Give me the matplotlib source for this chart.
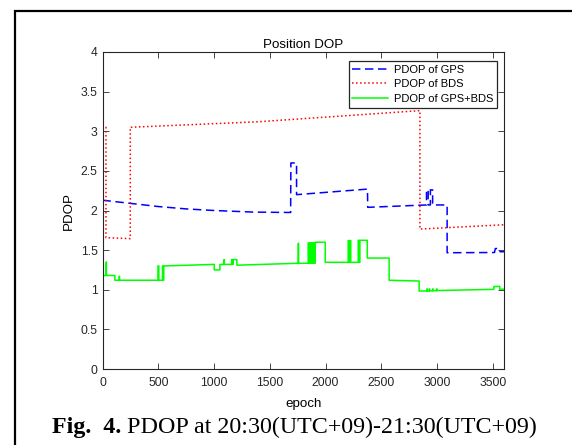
import matplotlib
matplotlib.use("Agg")
import matplotlib.pyplot as plt
from matplotlib.patches import Rectangle

plt.rcParams['font.family'] = ['Liberation Sans', 'DejaVu Sans']

# PDOP of GPS (epoch, value)
gps_x = [0, 250, 500, 750, 1000, 1350, 1687, 1689, 1740, 1740, 2376, 2378, 2905, 2905, 2920,
         2920, 2940, 2940, 2960, 2960, 2995, 2995, 3090, 3090, 3515, 3522, 3560, 3565, 3600]
gps_y = [2.13, 2.09, 2.05, 2.02, 2.0, 1.98, 1.975, 2.60, 2.60, 2.20, 2.27, 2.04, 2.07, 2.26,
         2.26, 2.07, 2.07, 2.26, 2.26, 2.07, 2.07, 2.07, 2.07, 1.467, 1.47, 1.52, 1.52, 1.48, 1.48]

# PDOP of BDS
bds_x = [28, 31, 31, 247, 249, 249, 1400, 2844, 2846, 2846, 3600]
bds_y = [3.05, 3.05, 1.657, 1.645, 1.645, 3.05, 3.12, 3.26, 3.26, 1.766, 1.82]

# PDOP of GPS+BDS, vertices as (epoch, value)
combo_pts = [
    (0, 1.18), (33, 1.18), (33, 1.35), (35, 1.35), (35, 1.18), (111, 1.18), (111, 1.12),
    (150, 1.12), (150, 1.17), (153, 1.17), (153, 1.12), (497, 1.12), (497, 1.30), (505, 1.30),
    (505, 1.12), (538, 1.12), (538, 1.30), (545, 1.30), (545, 1.12), (549, 1.12), (549, 1.30),
    (1002, 1.32), (1002, 1.25), (1053, 1.25), (1053, 1.32), (1089, 1.32), (1089, 1.38),
    (1092, 1.38), (1092, 1.32), (1158, 1.32), (1158, 1.38), (1165, 1.38), (1165, 1.32),
    (1172, 1.32), (1172, 1.38), (1205, 1.38), (1205, 1.31), (1755, 1.334), (1755, 1.586),
    (1758, 1.586), (1758, 1.334), (1844, 1.334), (1844, 1.59), (1852, 1.59), (1852, 1.334),
    (1858, 1.334), (1858, 1.59), (1864, 1.59), (1864, 1.334), (1870, 1.334), (1870, 1.59),
    (1876, 1.59), (1876, 1.334), (1882, 1.334), (1882, 1.59), (1888, 1.59), (1888, 1.334),
    (1894, 1.334), (1894, 1.59), (1900, 1.59), (1900, 1.334), (1906, 1.334), (1906, 1.59),
    (1910, 1.59), (1910, 1.60), (1997, 1.60), (1997, 1.346), (2203, 1.346), (2203, 1.62),
    (2210, 1.62), (2210, 1.346), (2216, 1.346), (2216, 1.62), (2226, 1.62), (2226, 1.346),
    (2293, 1.346), (2293, 1.624), (2300, 1.624), (2300, 1.346), (2308, 1.346), (2308, 1.624),
    (2374, 1.624), (2374, 1.40), (2570, 1.40), (2570, 1.12), (2839, 1.11), (2839, 0.984),
    (2908, 0.984), (2908, 1.01), (2912, 1.01), (2912, 0.984), (2930, 0.985), (2930, 1.01),
    (2934, 1.01), (2934, 0.986), (2960, 0.987), (2960, 1.01), (2964, 1.01), (2964, 0.988),
    (2995, 0.988), (2995, 1.01), (2999, 1.01), (2999, 0.99), (3509, 1.005), (3509, 1.04),
    (3562, 1.043), (3562, 1.005), (3600, 1.008),
]
combo_x = [p[0] for p in combo_pts]
combo_y = [p[1] for p in combo_pts]

x_ticks = [0, 500, 1000, 1500, 2000, 2500, 3000, 3500]
y_ticks = [0, 0.5, 1, 1.5, 2, 2.5, 3, 3.5, 4]

W, H = 572, 445
fig = plt.figure(figsize=(W / 100, H / 100), dpi=100)
ax = fig.add_axes([102.5 / W, 1 - 369 / H, (504 - 102.5) / W, (369 - 52) / H])

ax.plot(gps_x, gps_y, color='#0000ff', lw=1.1, dashes=(5.5, 3), label='PDOP of GPS')
ax.plot(bds_x, bds_y, color='#ff0000', lw=1.1, ls=':', label='PDOP of BDS')
ax.plot(combo_x, combo_y, color='#00ff00', lw=1.1, label='PDOP of GPS+BDS')

ax.set_xlim(0, 3600)
ax.set_ylim(0, 4)
ax.set_xticks(x_ticks)
ax.set_yticks(y_ticks)
ax.set_yticklabels([f'{v:g}' for v in y_ticks])
dark = '#262626'
ax.tick_params(direction='in', top=True, right=True, length=4, width=0.6,
               labelsize=8.7, colors=dark)
ax.tick_params(axis='x', pad=6)
for sp in ax.spines.values():
    sp.set_color(dark)
    sp.set_linewidth(0.8)

ax.set_title('Position DOP', fontsize=9.6, color='black', pad=3)
ax.set_xlabel('epoch', fontsize=9.6, labelpad=6)
ax.set_ylabel('PDOP', fontsize=9.6, labelpad=4)

leg = ax.legend(loc='upper right', bbox_to_anchor=(0.982, 0.972), fontsize=8,
                fancybox=False, framealpha=1, edgecolor=dark, handlelength=3.2,
                labelspacing=0.4, borderpad=0.35, handletextpad=0.5, borderaxespad=0)
leg.get_frame().set_linewidth(0.9)

# outer frame of the figure panel
fig.patches.append(Rectangle((14.5 / W, -0.1), 2, 1.1 - 11 / H, transform=fig.transFigure,
                             fill=False, lw=1.6, ec='black'))

# caption
cap_y = 1 - 427 / H
cap_bold = fig.text(52.5 / W, cap_y, 'Fig.  4.', fontsize=17.3, fontweight='bold',
                    family='Liberation Serif', va='center', ha='left')
r = fig.canvas.get_renderer()
bb = cap_bold.get_window_extent(renderer=r)
fig.text((bb.x1 + 5) / W, cap_y, 'PDOP at 20:30(UTC+09)-21:30(UTC+09)', fontsize=17.3,
         family='Liberation Serif', va='center', ha='left')

fig.savefig('out.png', dpi=100)
